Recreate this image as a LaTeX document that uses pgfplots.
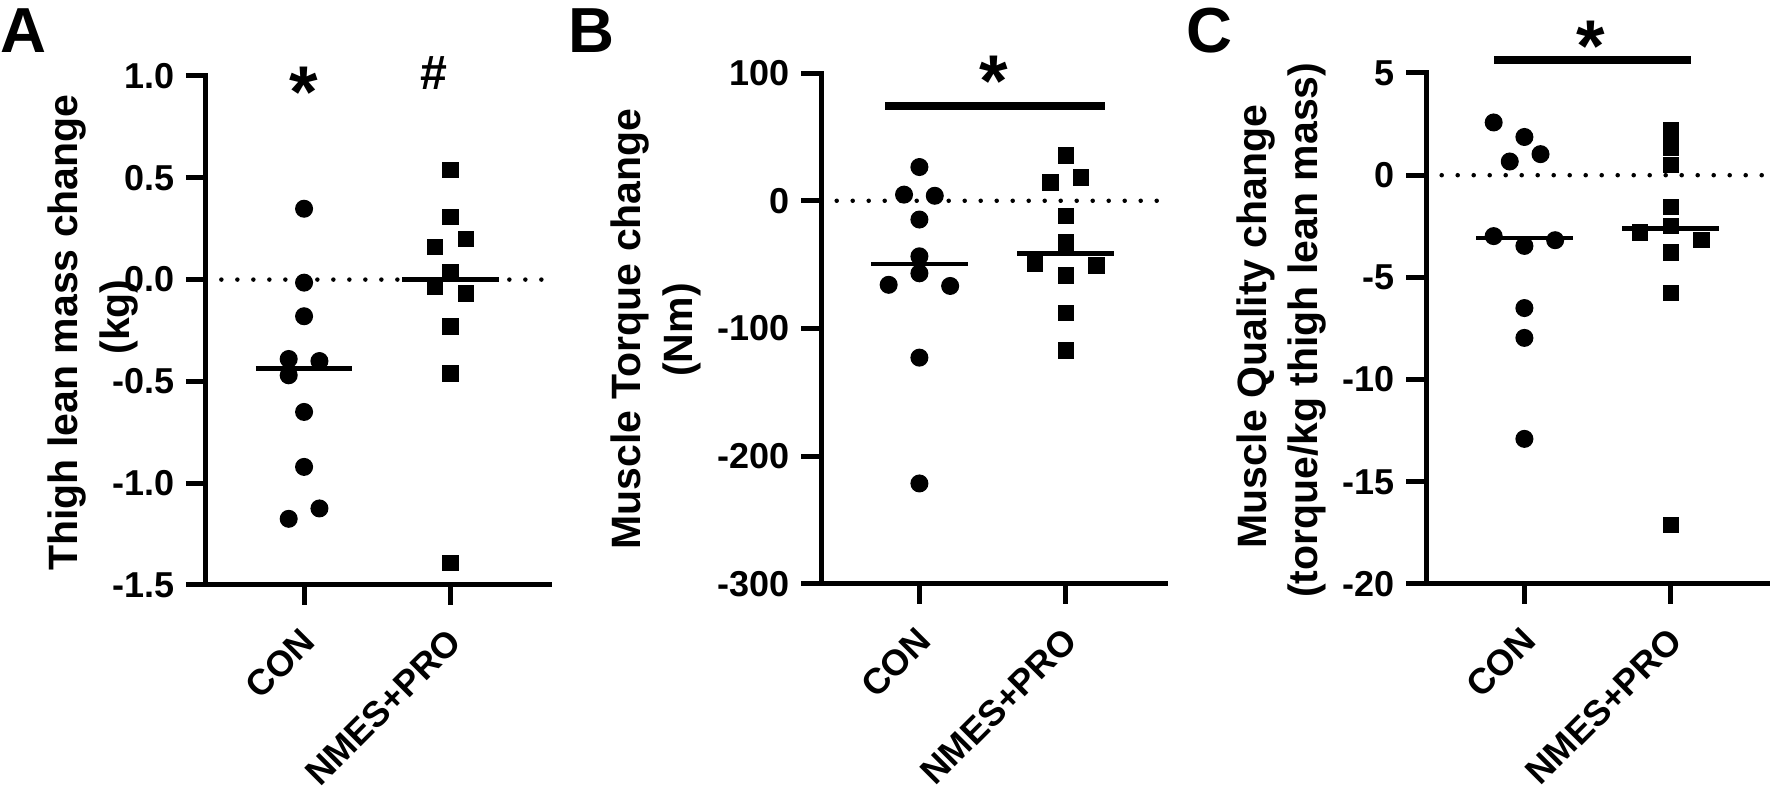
\documentclass[border=0pt]{standalone}
\usepackage{fontspec}
\setmainfont{Liberation Sans}
\usepackage{pgfplots}
\pgfplotsset{compat=1.18}
\newcommand\ticfont{\fontsize{10.8}{12}\selectfont\bfseries}
\newcommand\labfont{\fontsize{12.3}{14}\selectfont\bfseries}
\newcommand\letfont{\fontsize{19.1}{20}\selectfont\bfseries}
\newcommand\starfont{\fontsize{22}{22}\selectfont\bfseries}
\pgfplotsset{
  panel/.style={
    scale only axis, width=103.2pt, anchor=south west,
    axis x line=bottom, axis y line=left,
    axis line style={line width=1.5pt, -, line cap=rect},
    every tick/.style={black, line width=1.5pt},
    major tick length=6pt,
    tick align=outside,
    xmin=0.33, xmax=2.68,
    xtick={1,2}, xticklabels={CON,NMES+PRO},
    xticklabel style={xshift=1.5pt, yshift=-9pt, rotate=45, anchor=east, inner sep=0pt, font=\ticfont},
    yticklabel style={font=\ticfont},
    clip=false,
  },
  circ/.style={only marks, mark=*, mark size=2.5pt, mark options={draw=none, fill=black}},
  sq/.style={only marks, mark=square*, mark size=2.25pt, mark options={draw=none, fill=black}},
  med/.style={black, line width=1.4pt, no marks},
  zero/.style={black, line width=1.35pt, line cap=round, dash pattern=on 0pt off 4.8pt, no marks},
  sig/.style={black, line width=2.5pt, no marks},
}
\begin{document}
\begin{tikzpicture}
\useasboundingbox (0,0) rectangle (531pt,238.2pt);

% Panel A
\begin{axis}[panel, at={(61.8pt,62.7pt)}, height=152.7pt,
  ymin=-1.5, ymax=1.0,
  ytick={-1.5,-1,-0.5,0,0.5,1}, yticklabels={{-1.5},{-1.0},{-0.5},{0.0},{0.5},{1.0}}]
\addplot[zero] coordinates {(0.435,0) (2.65,0)};
\addplot[circ] coordinates {(1,0.348) (1,-0.015) (1,-0.18) (0.895,-0.39) (1.105,-0.40) (0.895,-0.47) (1,-0.65) (1,-0.92) (1.105,-1.124) (0.895,-1.175)};
\addplot[sq] coordinates {(2,0.538) (2,0.308) (2.105,0.201) (1.895,0.16) (2,0.038) (1.895,-0.034) (2.105,-0.068) (2,-0.231) (2,-0.462) (2,-1.391)};
\addplot[med] coordinates {(0.67,-0.438) (1.33,-0.438)};
\addplot[med] coordinates {(1.67,0) (2.33,0)};
\node[anchor=north, inner sep=0, font=\starfont] at (axis cs:1,1.047) {*};
\node[anchor=north, inner sep=0, font=\fontsize{14.5}{14.5}\selectfont\bfseries] at (axis cs:1.885,1.097) {\#};
\end{axis}

% Panel B
\begin{axis}[panel, at={(246.4pt,63pt)}, height=153.3pt,
  ymin=-300, ymax=100,
  ytick={-300,-200,-100,0,100}, yticklabels={{-300},{-200},{-100},{0},{100}}]
\addplot[zero] coordinates {(0.435,0) (2.65,0)};
\addplot[circ] coordinates {(1,26.4) (0.895,4.8) (1.105,3.9) (1,-14.7) (1,-43.5) (1,-56.8) (0.79,-65.8) (1.21,-66.7) (1,-122.8) (1,-221.3)};
\addplot[sq] coordinates {(2,35.4) (1.895,14.4) (2.105,18.3) (2,-11.7) (2,-32.7) (1.79,-49.5) (2.21,-50.8) (2,-58.6) (2,-87.7) (2,-117.1)};
\addplot[med] coordinates {(0.67,-49.5) (1.33,-49.5)};
\addplot[med] coordinates {(1.67,-41.1) (2.33,-41.1)};
\addplot[sig] coordinates {(0.766,74.1) (2.266,74.1)};
\node[anchor=north, inner sep=0, font=\starfont] at (axis cs:1.51,113.8) {*};
\end{axis}

% Panel C
\begin{axis}[panel, at={(427.9pt,63pt)}, height=153.3pt,
  ymin=-20, ymax=5,
  ytick={-20,-15,-10,-5,0,5}, yticklabels={{-20},{-15},{-10},{-5},{0},{5}}]
\addplot[zero] coordinates {(0.435,0) (2.7,0)};
\addplot[circ] coordinates {(0.79,2.58) (1,1.87) (1.11,1.03) (0.9,0.67) (0.79,-2.98) (1.21,-3.18) (1,-3.46) (1,-6.50) (1,-7.96) (1,-12.90)};
\addplot[sq] coordinates {(2,2.19) (2,1.36) (2,0.50) (2,-1.54) (2,-2.48) (1.79,-2.80) (2.21,-3.17) (2,-3.78) (2,-5.75) (2,-17.1)};
\addplot[med] coordinates {(0.67,-3.07) (1.33,-3.07)};
\addplot[med] coordinates {(1.67,-2.62) (2.33,-2.62)};
\addplot[sig] coordinates {(0.795,5.64) (2.136,5.64)};
\node[anchor=north, inner sep=0, font=\starfont] at (axis cs:1.456,7.55) {*};
\end{axis}

% Panel letters
\node[anchor=base west, inner sep=0, font=\letfont] at (0pt,222.5pt) {A};
\node[anchor=base west, inner sep=0, font=\letfont] at (170.4pt,222.5pt) {B};
\node[anchor=base west, inner sep=0, font=\letfont] at (355.7pt,222.5pt) {C};

% Y-axis labels
\node[rotate=90, anchor=base, inner sep=0, font=\labfont] at (23.2pt,138.45pt) {Thigh lean mass change};
\node[rotate=90, anchor=base, inner sep=0, font=\labfont] at (38.8pt,143.1pt) {(kg)};
\node[rotate=90, anchor=base, inner sep=0, font=\labfont] at (192.2pt,139.5pt) {Muscle Torque change};
\node[rotate=90, anchor=base, inner sep=0, font=\labfont] at (207.7pt,139.2pt) {(Nm)};
\node[rotate=90, anchor=base, inner sep=0, font=\labfont] at (379.8pt,140.2pt) {Muscle Quality change};
\node[rotate=90, anchor=base, inner sep=0, font=\labfont] at (395.3pt,139.1pt) {(torque/kg thigh lean mass)};
\end{tikzpicture}
\end{document}
